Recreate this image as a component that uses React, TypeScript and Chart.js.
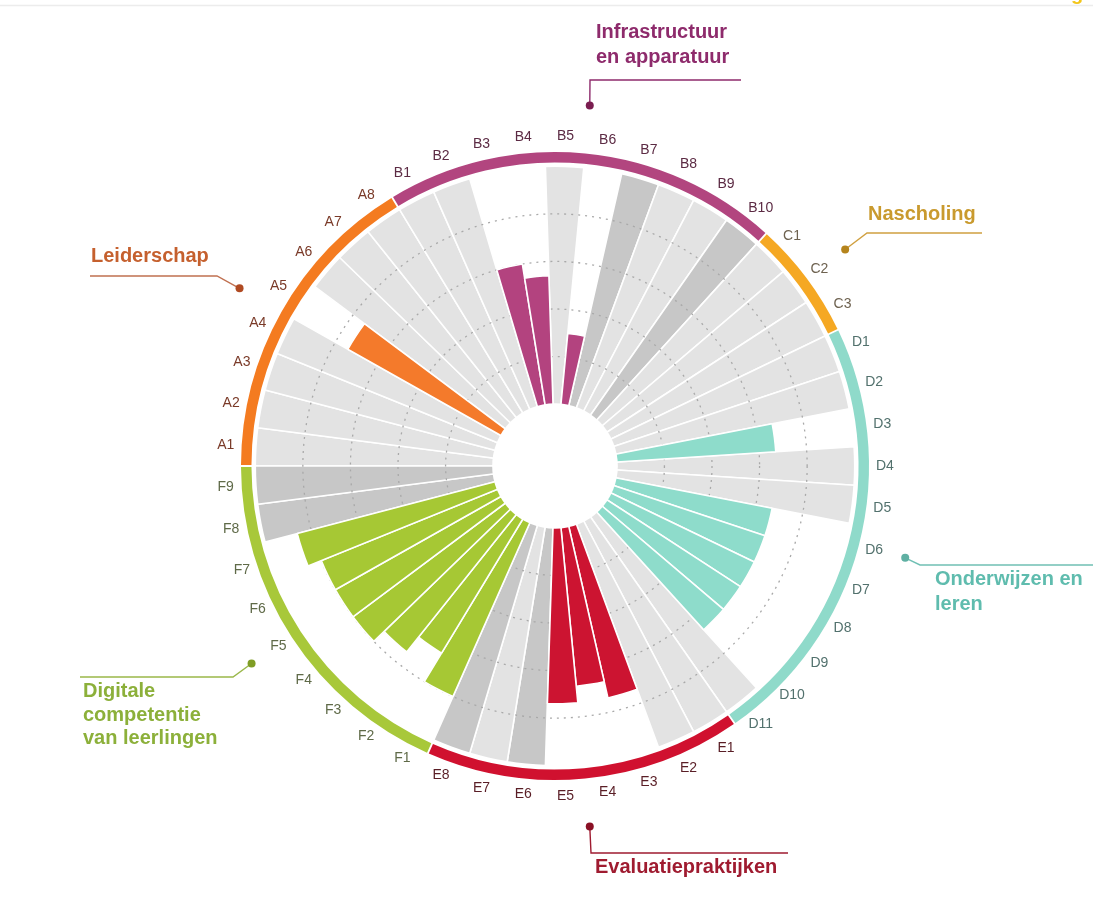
import React, { useEffect, useRef } from 'react';
import { Chart, registerables } from 'chart.js';

Chart.register(...registerables);

// ---------- data ----------
const categories = [
  'A1', 'A2', 'A3', 'A4', 'A5', 'A6', 'A7', 'A8',
  'B1', 'B2', 'B3', 'B4', 'B5', 'B6', 'B7', 'B8', 'B9', 'B10',
  'C1', 'C2', 'C3',
  'D1', 'D2', 'D3', 'D4', 'D5', 'D6', 'D7', 'D8', 'D9', 'D10', 'D11',
  'E1', 'E2', 'E3', 'E4', 'E5', 'E6', 'E7', 'E8',
  'F1', 'F2', 'F3', 'F4', 'F5', 'F6', 'F7', 'F8', 'F9',
];

// scored value per category (null = no score)
const scores = [
  null, null, null, null, 74, null, null, null,
  null, null, 60, 54, null, 30, null, null, null, null,
  null, null, null,
  null, null, 67, null, null, 67, 67, 67, 67, 67, null,
  null, null, 74, 67, 74, null, null, null,
  80, 66, 74, 80, 80, 80, 86, null, null,
];

// full grey bar for categories without a score
const notScored = [
  100, 100, 100, 100, null, 100, 100, 100,
  100, 100, null, null, 100, null, 100, 100, 100, 100,
  100, 100, 100,
  100, 100, null, 100, 100, null, null, null, null, null, 100,
  100, 100, null, null, null, 100, 100, 100,
  null, null, null, null, null, null, null, 100, 100,
];

// grey tone of the not-scored bars: L = light, D = dark
const greyTone = [
  'L', 'L', 'L', 'L', '', 'L', 'L', 'L',
  'L', 'L', '', '', 'L', '', 'D', 'L', 'L', 'D',
  'L', 'L', 'L',
  'L', 'L', '', 'L', 'L', '', '', '', '', '', 'L',
  'L', 'L', '', '', '', 'D', 'L', 'D',
  '', '', '', '', '', '', '', 'D', 'D',
];

const groupCodes = ['A', 'B', 'C', 'D', 'E', 'F'];
const groupSizes = [8, 10, 3, 11, 8, 9];
const groupTitles = [
  ['Leiderschap'],
  ['Infrastructuur', 'en apparatuur'],
  ['Nascholing'],
  ['Onderwijzen en', 'leren'],
  ['Evaluatiepraktijken'],
  ['Digitale', 'competentie', 'van leerlingen'],
];

// ---------- styles ----------
const ringColors = ['#f47b20', '#b2457f', '#f5a823', '#8fdaca', '#d0112f', '#a8c83a'];
const barColors = ['#f47a2b', '#b3437f', '#f5a823', '#8edccb', '#cc1431', '#a6c834'];
const titleColors = ['#c5602e', '#8e2b6c', '#c99a2e', '#5fbcae', '#9f1b30', '#8cb03a'];
const dotColors = ['#b04a22', '#7a1d50', '#b5841c', '#5fb0a3', '#8a1025', '#7f9d25'];
const lineColors = ['#c07050', '#8e2b6c', '#d0a040', '#70c0b4', '#9f1b30', '#9ab84a'];
const labelColors = ['#7a3a28', '#5c2b44', '#6e6250', '#52716d', '#5a1e26', '#5f6a48'];
const LIGHT_GREY = '#e3e3e3';
const DARK_GREY = '#c7c7c7';

// annotation layout (elbow point, end point, text position, line spacing)
const leaderPaths = [
  [[217, 276], [90, 276]],
  [[590, 80], [741, 80]],
  [[867, 233], [982, 233]],
  [[920, 565], [1093, 565]],
  [[591, 853], [788, 853]],
  [[233, 677], [80, 677]],
];
const titlePos = [
  [91, 262],
  [596, 38],
  [868, 220],
  [935, 585],
  [595, 873],
  [83, 697],
];
const titleLineGap = [25, 25, 25, 25, 25, 23.5];

const RING_INNER = 101.6;
const RING_OUTER = 106;
const LABEL_AT = 112.7;
const DOT_AT = 126.2;

const groupIndexOf = (label: string) => groupCodes.indexOf(label.charAt(0));

const decorPlugin = {
  id: 'decor',
  beforeDraw(chart: any) {
    const ctx = chart.ctx;
    ctx.save();
    ctx.fillStyle = '#ffffff';
    ctx.fillRect(0, 0, chart.width, chart.height);
    ctx.strokeStyle = '#ececec';
    ctx.lineWidth = 1.5;
    ctx.beginPath();
    ctx.moveTo(0, 5.5);
    ctx.lineTo(chart.width, 5.5);
    ctx.stroke();
    // cut-off yellow element at the top-right edge
    ctx.fillStyle = '#f3c61a';
    ctx.font = 'bold 20px "Liberation Sans", Arial, sans-serif';
    ctx.textAlign = 'left';
    ctx.textBaseline = 'alphabetic';
    ctx.fillText('g', 1071, 0);
    ctx.restore();
  },
  afterDatasetDraw(chart: any, args: any) {
    if (args.index !== 1) return;
    const scale = chart.scales.r;
    const ctx = chart.ctx;
    ctx.save();
    ctx.strokeStyle = '#a9a9a9';
    ctx.lineWidth = 1.3;
    ctx.setLineDash([2, 5]);
    scale.ticks.forEach((t: any) => {
      if (t.value > 0 && t.value < 100) {
        ctx.beginPath();
        ctx.arc(scale.xCenter, scale.yCenter, scale.getDistanceFromCenterForValue(t.value), 0, Math.PI * 2);
        ctx.stroke();
      }
    });
    ctx.restore();
  },
  afterDatasetsDraw(chart: any) {
    const scale = chart.scales.r;
    const ctx = chart.ctx;
    const n = categories.length;
    const step = (Math.PI * 2) / n;
    const cx = scale.xCenter;
    const cy = scale.yCenter;
    ctx.save();

    // inner hole
    ctx.fillStyle = '#ffffff';
    ctx.beginPath();
    ctx.arc(cx, cy, scale.getDistanceFromCenterForValue(0) + 1, 0, Math.PI * 2);
    ctx.fill();

    // outer group ring
    const rIn = scale.getDistanceFromCenterForValue(RING_INNER);
    const rOut = scale.getDistanceFromCenterForValue(RING_OUTER);
    let first = 0;
    groupSizes.forEach((size, g) => {
      const a0 = scale.getIndexAngle(first) - Math.PI / 2;
      const a1 = a0 + size * step;
      ctx.beginPath();
      ctx.strokeStyle = ringColors[g];
      ctx.lineWidth = rOut - rIn;
      ctx.arc(cx, cy, (rIn + rOut) / 2, a0 + 0.003, a1 - 0.003);
      ctx.stroke();

      // leader dot + line
      const dot = scale.getPointPosition(first, scale.getDistanceFromCenterForValue(DOT_AT), (size * step) / 2);
      ctx.strokeStyle = lineColors[g];
      ctx.lineWidth = 1.4;
      ctx.beginPath();
      ctx.moveTo(dot.x, dot.y);
      leaderPaths[g].forEach(([x, y]) => ctx.lineTo(x, y));
      ctx.stroke();
      ctx.fillStyle = dotColors[g];
      ctx.beginPath();
      ctx.arc(dot.x, dot.y, 4, 0, Math.PI * 2);
      ctx.fill();

      // group title
      ctx.fillStyle = titleColors[g];
      ctx.font = 'bold 20px "Liberation Sans", Arial, sans-serif';
      ctx.textAlign = 'left';
      ctx.textBaseline = 'alphabetic';
      groupTitles[g].forEach((line, k) => {
        ctx.fillText(line, titlePos[g][0], titlePos[g][1] + k * titleLineGap[g]);
      });
      first += size;
    });

    // category labels
    ctx.font = '14px "Liberation Sans", Arial, sans-serif';
    ctx.textAlign = 'center';
    ctx.textBaseline = 'middle';
    const dLabel = scale.getDistanceFromCenterForValue(LABEL_AT);
    categories.forEach((lab, i) => {
      const p = scale.getPointPosition(i, dLabel, step / 2);
      ctx.fillStyle = labelColors[groupIndexOf(lab)];
      ctx.fillText(lab, p.x, p.y);
    });
    ctx.restore();
  },
};

export default function App() {
  const ref = useRef<HTMLCanvasElement>(null);
  useEffect(() => {
    if (!ref.current) return;
    const chart = new Chart(ref.current, {
      type: 'polarArea',
      data: {
        labels: categories,
        datasets: [
          {
            label: 'Score',
            data: scores as any,
            backgroundColor: categories.map((c) => barColors[groupIndexOf(c)]),
            borderColor: '#ffffff',
            borderWidth: 1.6,
          },
          {
            label: 'Geen score',
            data: notScored as any,
            backgroundColor: greyTone.map((t) => (t === 'D' ? DARK_GREY : LIGHT_GREY)),
            borderColor: '#ffffff',
            borderWidth: 1.6,
          },
        ],
      },
      options: {
        animation: false,
        responsive: true,
        maintainAspectRatio: false,
        layout: { padding: { left: 241, right: 224, top: 152, bottom: 141 } },
        plugins: { legend: { display: false }, tooltip: { enabled: false } },
        scales: {
          r: {
            min: -26,
            max: 106,
            startAngle: 270,
            ticks: { display: false, stepSize: 20 },
            grid: { display: false },
            angleLines: { display: false },
            pointLabels: { display: false },
          },
        },
      },
      plugins: [decorPlugin],
    });
    return () => chart.destroy();
  }, []);
  return (
    <div style={{ position: 'absolute', left: 0, top: 0, width: 1093, height: 921, background: '#fff' }}>
      <canvas ref={ref} />
    </div>
  );
}
